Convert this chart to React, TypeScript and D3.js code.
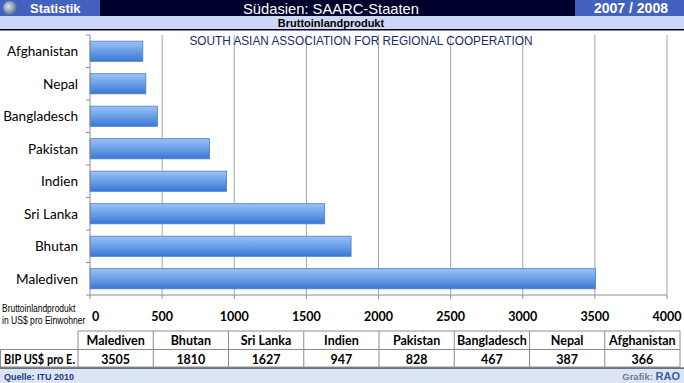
import React from "react";
import * as d3 from "d3";

const categories = ["Malediven", "Bhutan", "Sri Lanka", "Indien", "Pakistan", "Bangladesch", "Nepal", "Afghanistan"];
const values = [3505, 1810, 1627, 947, 828, 467, 387, 366];
const xTicks = [0, 500, 1000, 1500, 2000, 2500, 3000, 3500, 4000];

const W = 684;
const H = 383;

export default function App() {
  const x = d3.scaleLinear().domain([0, 4000]).range([90, 667]);
  const order = [...categories].reverse();
  const y = d3.scaleBand<string>().domain(order).range([35, 295]).paddingInner(0.38).paddingOuter(0.19);
  const yb = d3.scaleBand<string>().domain(order).range([35, 295]);
  const colX = d3.scaleBand<string>().domain(categories).range([78, 680]);
  const calibri = "Lato, 'Open Sans', sans-serif";
  const arial = "'Liberation Sans', Arial, sans-serif";
  const rowTop = 331, rowMid = 349.5, rowBot = 367;

  return (
    <svg width={W} height={H} style={{ position: "absolute", left: 0, top: 0, display: "block" }}>
      <defs>
        <linearGradient id="barGrad" x1="0" y1="0" x2="0" y2="1">
          <stop offset="0" stopColor="#9cc2f5" />
          <stop offset="0.5" stopColor="#6a9fe6" />
          <stop offset="1" stopColor="#3b77d2" />
        </linearGradient>
        <radialGradient id="globe" cx="0.4" cy="0.4" r="0.6">
          <stop offset="0" stopColor="#e0e6f0" />
          <stop offset="1" stopColor="#5a6c90" />
        </radialGradient>
      </defs>
      <rect x={0} y={0} width={W} height={H} fill="#ffffff" />
      {/* header */}
      <rect x={0} y={0} width={W} height={16} fill="#00002c" />
      <rect x={0} y={0} width={100} height={16} fill="#4361bf" />
      <rect x={575} y={0} width={109} height={16} fill="#4361bf" />
      <circle cx={10} cy={8} r={7} fill="url(#globe)" />
      <text x={30} y={13} fill="#ffffff" fontFamily={arial} fontWeight="bold" fontSize={13}>Statistik</text>
      <text x={331} y={13.5} fill="#ffffff" fontFamily={arial} fontSize={15} textAnchor="middle" textLength={176} lengthAdjust="spacingAndGlyphs">Südasien: SAARC-Staaten</text>
      <text x={631} y={13} fill="#ffffff" fontFamily={arial} fontWeight="bold" fontSize={14} textAnchor="middle">2007 / 2008</text>
      <rect x={0} y={16} width={W} height={13} fill="#ccd8f4" />
      <text x={331} y={26.5} fill="#000000" fontFamily={arial} fontWeight="bold" fontSize={11} textAnchor="middle">Bruttoinlandprodukt</text>
      <rect x={0} y={29} width={W} height={1.5} fill="#00002c" />

      {/* grid */}
      {xTicks.slice(1).map((t) => (
        <line key={t} x1={x(t)} x2={x(t)} y1={35} y2={295} stroke="#a6a6a6" strokeWidth={1} />
      ))}
      <text x={361} y={45} fill="#1b2a6e" fontFamily={arial} fontSize={12} textAnchor="middle" textLength={343} lengthAdjust="spacingAndGlyphs">SOUTH ASIAN ASSOCIATION FOR REGIONAL COOPERATION</text>

      {/* bars */}
      {categories.map((c, i) => (
        <rect key={c} x={x(0)} y={y(c)!} width={x(values[i]) - x(0)} height={y.bandwidth()} fill="url(#barGrad)" stroke="#4a7fcf" strokeWidth={0.8} />
      ))}

      {/* axes */}
      <line x1={x(0)} x2={x(0)} y1={35} y2={295} stroke="#8c8c8c" />
      {order.map((c) => (
        <line key={c} x1={86} x2={x(0)} y1={yb(c)!} y2={yb(c)!} stroke="#8c8c8c" />
      ))}
      <line x1={86} x2={x(0)} y1={295} y2={295} stroke="#8c8c8c" />
      <line x1={x(0)} x2={x(4000)} y1={295} y2={295} stroke="#8c8c8c" />
      {xTicks.map((t) => (
        <line key={t} x1={x(t)} x2={x(t)} y1={295} y2={299} stroke="#8c8c8c" />
      ))}
      {categories.map((c) => (
        <text key={c} x={78} y={y(c)! + y.bandwidth() / 2 + 5} fontFamily={calibri} fontSize={13.6} textAnchor="end" fill="#000">{c}</text>
      ))}
      {xTicks.map((t) => (
        <text key={t} x={t === 0 ? x(t) + 2 : x(t)} y={321} fontFamily={calibri} fontWeight="bold" fontSize={12.5} textAnchor={t === 0 ? "start" : "middle"} fill="#000">{t}</text>
      ))}
      <g transform="translate(2,0) scale(0.77,1)">
        <text x={0} y={312} fontFamily={arial} fontSize={11} fill="#000">Bruttoinlandprodukt</text>
      </g>
      <g transform="translate(2,0) scale(0.78,1)">
        <text x={0} y={324} fontFamily={arial} fontSize={11} fill="#000">in US$ pro Einwohner</text>
      </g>

      {/* table */}
      <g stroke="#8c8c8c" strokeWidth={1} fill="none">
        <line x1={78} x2={680} y1={rowTop} y2={rowTop} />
        <line x1={0} x2={680} y1={rowMid} y2={rowMid} />
        <line x1={0} x2={680} y1={rowBot} y2={rowBot} />
        <line x1={0.5} x2={0.5} y1={rowMid} y2={rowBot} />
        <line x1={78} x2={78} y1={rowTop} y2={rowBot} />
        {categories.map((c) => (
          <line key={c} x1={colX(c)! + colX.bandwidth()} x2={colX(c)! + colX.bandwidth()} y1={rowTop} y2={rowBot} />
        ))}
      </g>
      {categories.map((c, i) => (
        <g key={c}>
          <text x={colX(c)! + colX.bandwidth() / 2} y={rowTop + 14} fontFamily={calibri} fontWeight="bold" fontSize={12.5} textAnchor="middle" fill="#000">{c}</text>
          <text x={colX(c)! + colX.bandwidth() / 2} y={rowMid + 14} fontFamily={calibri} fontWeight="bold" fontSize={12.5} textAnchor="middle" fill="#000">{values[i]}</text>
        </g>
      ))}
      <text x={4} y={rowMid + 14} fontFamily={calibri} fontWeight="bold" fontSize={12.5} fill="#000" textLength={71} lengthAdjust="spacingAndGlyphs">BIP US$ pro E.</text>

      {/* footer */}
      <rect x={0} y={368} width={W} height={15} fill="#dce5f6" />
      <rect x={0} y={367.5} width={W} height={1.2} fill="#3c3c50" />
      <text x={4} y={380} fontFamily={arial} fontWeight="bold" fontSize={9} fill="#1c3c80">Quelle: ITU 2010</text>
      <text x={680} y={380} fontFamily={arial} fontWeight="bold" fontSize={9.5} textAnchor="end" fill="#3d5aa0">
        <tspan fill="#6f7a92">Grafik: </tspan><tspan fontSize={11}>RAO</tspan>
      </text>
    </svg>
  );
}
